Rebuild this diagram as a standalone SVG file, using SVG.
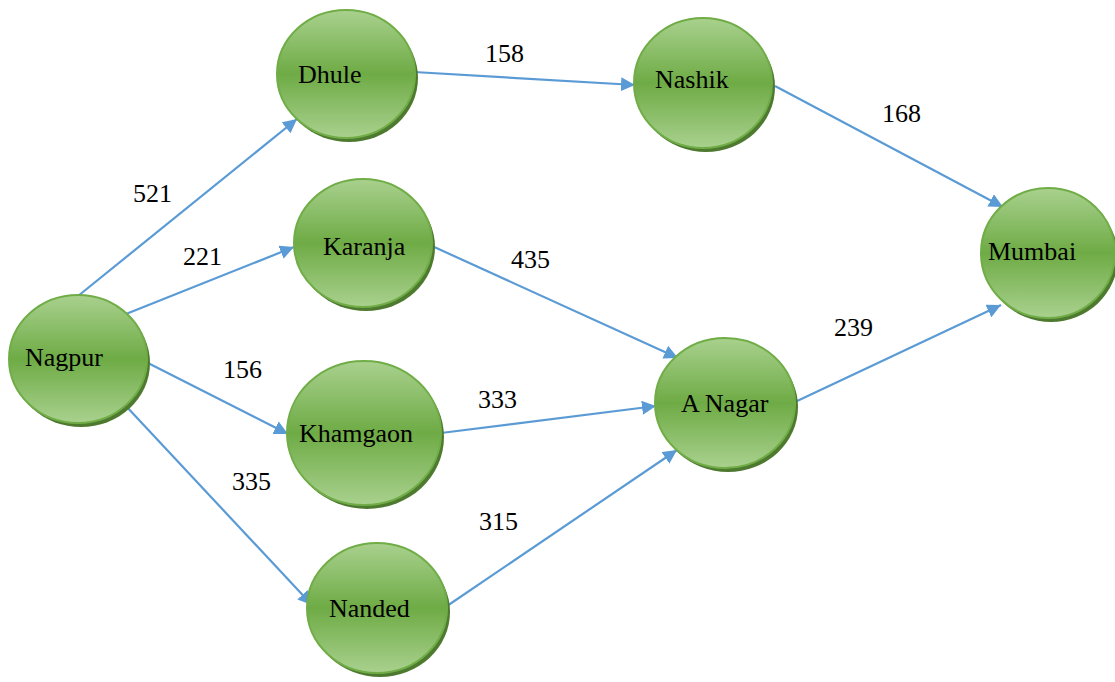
<svg xmlns="http://www.w3.org/2000/svg" width="1115" height="682" viewBox="0 0 1115 682">
<defs>
<linearGradient id="g" x1="0" y1="0" x2="0" y2="1">
<stop offset="0" stop-color="#a9d18e"/>
<stop offset="0.5" stop-color="#6eab45"/>
<stop offset="1" stop-color="#a9d18e"/>
</linearGradient>
<marker id="arr" markerUnits="userSpaceOnUse" markerWidth="16" markerHeight="14" refX="14" refY="7" orient="auto">
<path d="M0,0 L14,7 L0,14 Z" fill="#5b9bd5"/>
</marker>
<style>
.n ellipse.b{fill:url(#g);stroke:#70ad47;stroke-width:2}
.n ellipse.s{fill:#4e7a30}
text{font-family:'Liberation Serif','Times New Roman',serif;font-size:26px;fill:#000}
.c line{stroke:#5b9bd5;stroke-width:2.2;marker-end:url(#arr)}
</style>
</defs>
<rect width="1115" height="682" fill="#fff"/>
<g id="connectors" class="c">
<line x1="78" y1="296" x2="297" y2="119"/>
<line x1="126" y1="314" x2="294" y2="247"/>
<line x1="146" y1="362" x2="288" y2="434"/>
<line x1="125" y1="405" x2="312" y2="605"/>
<line x1="414" y1="72" x2="635" y2="85"/>
<line x1="775" y1="86" x2="1003" y2="207"/>
<line x1="432" y1="246" x2="678" y2="358"/>
<line x1="441" y1="433" x2="656" y2="406"/>
<line x1="447" y1="606" x2="677" y2="450"/>
<line x1="795" y1="402" x2="1001" y2="305"/>
</g>
<g id="labels" font-family="Liberation Serif, serif">
<text x="133" y="202">521</text>
<text x="183" y="265">221</text>
<text x="223" y="378">156</text>
<text x="232" y="490">335</text>
<text x="485" y="62">158</text>
<text x="882" y="122">168</text>
<text x="511" y="268">435</text>
<text x="478" y="408">333</text>
<text x="479" y="530">315</text>
<text x="834" y="336">239</text>
</g>
<g id="nagpur" class="n"><ellipse class="s" cx="81" cy="363" rx="69" ry="64"/><ellipse class="b" cx="78" cy="359" rx="69" ry="64"/><text x="25" y="366">Nagpur</text></g>
<g id="dhule" class="n"><ellipse class="s" cx="349" cy="78" rx="69" ry="64"/><ellipse class="b" cx="346" cy="74" rx="69" ry="64"/><text x="298" y="83">Dhule</text></g>
<g id="karanja" class="n"><ellipse class="s" cx="366" cy="247" rx="69" ry="64"/><ellipse class="b" cx="363" cy="243" rx="69" ry="64"/><text x="323" y="255">Karanja</text></g>
<g id="khamgaon" class="n"><ellipse class="s" cx="367" cy="437" rx="77" ry="72"/><ellipse class="b" cx="364" cy="433" rx="77" ry="72"/><text x="299" y="442">Khamgaon</text></g>
<g id="nanded" class="n"><ellipse class="s" cx="380" cy="612" rx="70" ry="65"/><ellipse class="b" cx="377" cy="608" rx="70" ry="65"/><text x="329" y="617">Nanded</text></g>
<g id="nashik" class="n"><ellipse class="s" cx="706" cy="87" rx="69" ry="65"/><ellipse class="b" cx="703" cy="83" rx="69" ry="65"/><text x="655" y="88">Nashik</text></g>
<g id="anagar" class="n"><ellipse class="s" cx="728" cy="407" rx="70" ry="65"/><ellipse class="b" cx="725" cy="403" rx="70" ry="65"/><text x="681" y="412">A Nagar</text></g>
<g id="mumbai" class="n"><ellipse class="s" cx="1051" cy="257" rx="67" ry="65"/><ellipse class="b" cx="1048" cy="253" rx="67" ry="65"/><text x="988" y="260">Mumbai</text></g>
</svg>
